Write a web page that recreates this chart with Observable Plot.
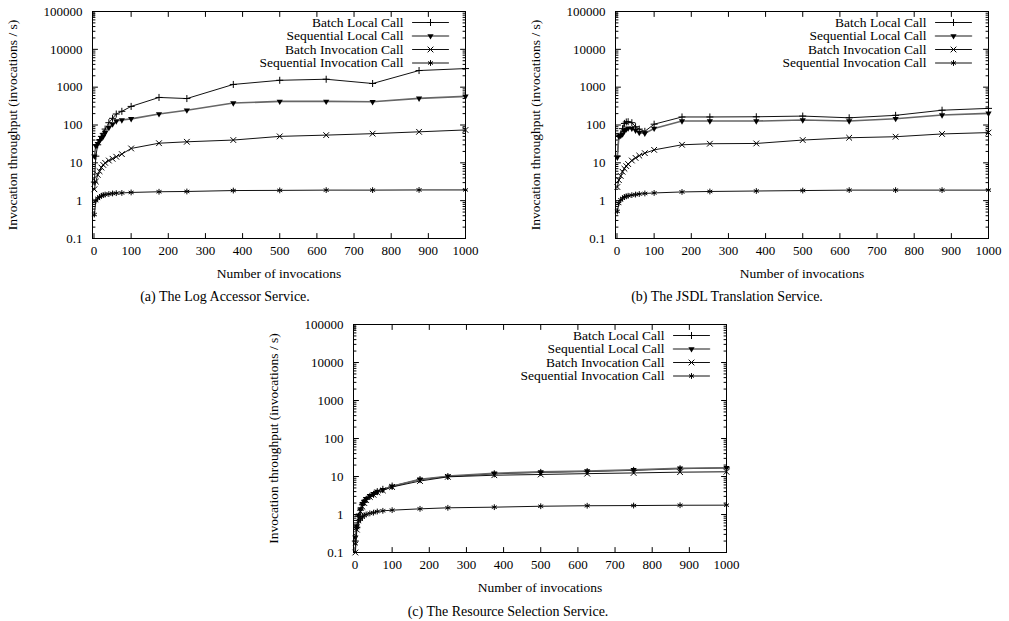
<!DOCTYPE html>
<html><head><meta charset="utf-8">
<script src="https://cdn.jsdelivr.net/npm/d3@7"></script>
<script src="https://cdn.jsdelivr.net/npm/@observablehq/plot@0.6"></script>
<style>
body{margin:0;background:#fff;}
#wrap{position:relative;width:1009px;height:621px;font-family:"Liberation Serif","Times New Roman",serif;background:#fff;}
.panel{position:absolute;}
.cap{position:absolute;font-size:14px;line-height:14px;transform:translateX(-50%);white-space:nowrap;color:#000;}
</style></head><body><div id="wrap"></div>
<script>
const invocations = [1,5,10,15,20,25,30,40,50,60,75,100,175,250,375,500,625,750,875,1000];
const seriesNames = ["Batch Local Call","Sequential Local Call","Batch Invocation Call","Sequential Invocation Call"];
const xTicks = [0,100,200,300,400,500,600,700,800,900,1000];
const xTickLabels = ["0","100","200","300","400","500","600","700","800","900","1000"];
const yTicks = [0.1,1,10,100,1000,10000,100000];
const yTickLabels = ["0.1","1","10","100","1000","10000","100000"];
const xLabel = "Number of invocations";
const yLabel = "Invocation throughput (invocations / s)";
const captions = ["(a) The Log Accessor Service.","(b) The JSDL Translation Service.","(c) The Resource Selection Service."];

// (a) Log Accessor Service
const logBatchLocal = [3.1,15,30,40,50,60,78,115,150,195,230,310,535,500,1180,1520,1620,1250,2750,3100];
const logSeqLocal   = [15,28,32,38,45,50,62,85,105,127,135,145,195,245,380,420,420,410,505,570];
const logBatchInv   = [2.0,3.2,4.8,6.0,7.5,8.8,10,11.5,12.8,14.5,17,24,33,36,40,50,54,59,66,74];
const logSeqInv     = [0.43,1.0,1.15,1.25,1.35,1.4,1.45,1.5,1.55,1.58,1.6,1.65,1.72,1.75,1.85,1.87,1.9,1.9,1.92,1.92];
// (b) JSDL Translation Service
const jsdlBatchLocal = [15,50,58,80,110,120,122,115,90,78,68,105,163,163,165,172,155,180,246,275];
const jsdlSeqLocal   = [14,50,52,57,70,77,82,81,72,63,60,81,127,127,127,135,127,146,183,203];
const jsdlBatchInv   = [2.3,3.5,4.5,5.8,7,8.2,9.3,11.5,13.5,15.5,18,22,30,32,32.5,40,46,49,58,63];
const jsdlSeqInv     = [0.52,0.85,1.05,1.15,1.25,1.3,1.35,1.4,1.45,1.5,1.55,1.6,1.7,1.75,1.8,1.85,1.9,1.9,1.9,1.9];
// (c) Resource Selection Service
const rsBatchLocal = [0.2,0.45,0.9,1.3,1.8,2.1,2.5,3.0,3.4,4.0,4.6,5.6,8.3,10,11.8,12.8,13.5,14.5,16,16.8];
const rsSeqLocal   = [0.25,0.5,0.95,1.4,1.9,2.2,2.6,3.1,3.5,4.0,4.5,5.5,8.5,10.2,12.2,13.2,14,15,16.5,17];
const rsBatchInv   = [0.1,0.4,0.8,1.2,1.6,2.0,2.4,2.9,3.3,3.8,4.3,5.3,7.6,9.8,10.8,11.3,11.9,12.4,13.0,13.3];
const rsSeqInv     = [0.17,0.45,0.65,0.75,0.85,0.95,1.0,1.07,1.12,1.2,1.25,1.3,1.41,1.5,1.56,1.65,1.7,1.72,1.75,1.76];

const seriesStyle = [
  {stroke:"#111", strokeWidth:1, symbol:"plus", r:2.4, fill:"none", rotate:0},
  {stroke:"#666", strokeWidth:1.6, symbol:"triangle", r:2.3, fill:"#000", rotate:180},
  {stroke:"#111", strokeWidth:1, symbol:"times", r:2.7, fill:"none", rotate:0},
  {stroke:"#111", strokeWidth:1, symbol:"asterisk", r:2.7, fill:"none", rotate:0}
];

const yMinor = [];
for (let e = -1; e < 5; e++) for (let m = 2; m < 10; m++) yMinor.push(m * Math.pow(10, e));

const tickShape = {draw(ctx, l){ ctx.moveTo(0,0); ctx.lineTo(0,-l); }};

function makePanel(values, left, top, height, caption, capX, capY) {
  const marks = [];
  const tick = (data, anchor, rot, len, ch) => Plot.vector(data, {[ch]: d => d, frameAnchor: anchor, rotate: rot, length: len, anchor: "start", shape: tickShape, stroke: "#000", strokeWidth: 1});
  marks.push(tick(xTicks, "bottom", 0, 5, "x"));
  marks.push(tick(xTicks, "top", 180, 5, "x"));
  marks.push(tick(yTicks, "left", 90, 5, "y"));
  marks.push(tick(yTicks, "right", -90, 5, "y"));
  marks.push(tick(yMinor, "left", 90, 2.5, "y"));
  marks.push(tick(yMinor, "right", -90, 2.5, "y"));
  marks.push(Plot.axisX(xTicks, {tickSize: 0, tickPadding: 7, fontSize: 13, label: null, tickFormat: d => xTickLabels[xTicks.indexOf(d)]}));
  marks.push(Plot.axisY(yTicks, {tickSize: 0, tickPadding: 10, fontSize: 13, label: null, tickFormat: d => yTickLabels[yTicks.indexOf(d)]}));
  marks.push(Plot.text([xLabel], {frameAnchor: "bottom", dy: 35, fontSize: 13.5, textAnchor: "middle", lineAnchor: "middle", fill: "#000"}));
  marks.push(Plot.text([yLabel], {frameAnchor: "left", dx: -80, rotate: -90, fontSize: 13.5, textAnchor: "middle", lineAnchor: "middle", fill: "#000"}));
  seriesNames.forEach((name, i) => {
    const st = seriesStyle[i];
    const rows = invocations.map((x, j) => ({x, y: values[i][j]}));
    const dotOpts = {symbol: st.symbol, r: st.r, stroke: st.fill === "none" ? "#000" : "none", fill: st.fill === "none" ? "none" : st.fill, strokeWidth: 1, rotate: st.rotate};
    marks.push(Plot.line(rows, {x: "x", y: "y", stroke: st.stroke, strokeWidth: st.strokeWidth}));
    marks.push(Plot.dot(rows, {x: "x", y: "y", ...dotOpts}));
    const dy = 11 + 13.5 * i;
    marks.push(Plot.text([name], {frameAnchor: "top-right", dx: -62, dy, textAnchor: "end", lineAnchor: "middle", fontSize: 13.5, fill: "#000"}));
    marks.push(Plot.vector([name], {frameAnchor: "top-right", dx: -53, dy, rotate: 90, length: 36, anchor: "start", shape: tickShape, stroke: st.stroke, strokeWidth: st.strokeWidth}));
    marks.push(Plot.dot([name], {frameAnchor: "top-right", dx: -35, dy, ...dotOpts}));
  });
  marks.push(Plot.frame({stroke: "#000", strokeWidth: 1}));
  const svg = Plot.plot({
    width: 480, height,
    marginLeft: 92, marginRight: 15, marginTop: 11, marginBottom: 47,
    style: {fontFamily: '"Liberation Serif","Times New Roman",serif', fontSize: "13px", background: "transparent", color: "#000", overflow: "visible"},
    x: {domain: [-4, 1000], label: null},
    y: {type: "log", domain: [0.1, 100000], label: null},
    marks
  });
  svg.classList.add("panel");
  svg.style.left = left + "px";
  svg.style.top = top + "px";
  const wrap = document.getElementById("wrap");
  wrap.appendChild(svg);
  const cap = document.createElement("div");
  cap.className = "cap";
  cap.textContent = caption;
  cap.style.left = capX + "px";
  cap.style.top = capY + "px";
  wrap.appendChild(cap);
}

makePanel([logBatchLocal, logSeqLocal, logBatchInv, logSeqInv], 0, 0, 285, captions[0], 225, 290);
makePanel([jsdlBatchLocal, jsdlSeqLocal, jsdlBatchInv, jsdlSeqInv], 523, 0, 285, captions[1], 727, 290);
makePanel([rsBatchLocal, rsSeqLocal, rsBatchInv, rsSeqInv], 261, 313, 286, captions[2], 508, 605);
</script></body></html>
